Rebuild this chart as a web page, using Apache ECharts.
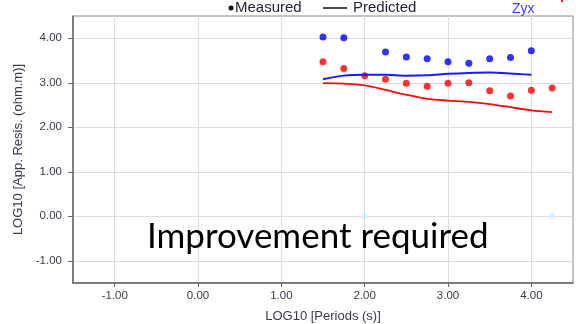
<!DOCTYPE html>
<html>
<head>
<meta charset="utf-8">
<script src="https://cdn.jsdelivr.net/npm/echarts@6/dist/echarts.min.js"></script>
<style>
  html, body { margin: 0; padding: 0; background: #fff; }
  #chart { width: 576px; height: 324px; }
</style>
</head>
<body>
<div id="chart"></div>
<script>
// LOG10 period values where responses were sampled
const periods = [1.5, 1.75, 2.0, 2.25, 2.5, 2.75, 3.0, 3.25, 3.5, 3.75, 4.0, 4.25];

// Zyx component (blue)
const zyxMeasured  = [4.03, 4.01, null, 3.69, 3.58, 3.54, 3.47, 3.44, 3.54, 3.57, 3.72, null];
const zyxPredicted = [3.08, 3.16, 3.18, 3.18, 3.16, 3.17, 3.20, 3.22, 3.23, 3.21, 3.18, null];

// Zxy component (red)
const zxyMeasured  = [3.47, 3.32, 3.16, 3.08, 2.99, 2.92, 2.99, 3.00, 2.82, 2.70, 2.83, 2.88];
const zxyPredicted = [2.99, 2.98, 2.94, 2.84, 2.73, 2.64, 2.60, 2.57, 2.52, 2.45, 2.38, 2.34];

// Rejected samples plotted at zero
const rejectedPeriods = [2.0, 4.25];
const rejectedValues  = [0.0, 0.0];

// Axis tick labels
const xTicks = [-1, 0, 1, 2, 3, 4];
const yTicks = [-1, 0, 1, 2, 3, 4];

const pairs = (xs, ys) => xs.map((x, i) => [x, ys[i]]).filter(p => p[1] !== null);

const chart = echarts.init(document.getElementById('chart'), null, { renderer: 'canvas' });

const axisFont = { fontFamily: 'Liberation Sans, Arial, sans-serif', fontSize: 11.5, color: '#3a3a4a' };

chart.setOption({
  animation: false,
  backgroundColor: '#ffffff',
  grid: {
    left: 73, right: 3, top: 16, bottom: 41,
    containLabel: false, outerBoundsMode: 'none',
    show: true, borderColor: '#8a8a8a', borderWidth: 1
  },
  xAxis: {
    type: 'value', min: -1.5, max: 4.5,
    name: 'LOG10 [Periods (s)]', nameLocation: 'middle', nameGap: 27,
    nameTextStyle: Object.assign({}, axisFont, { fontSize: 13 }),
    axisLine: { show: true, onZero: false, lineStyle: { color: '#666', width: 1.5 } },
    axisTick: { show: true, length: 4, customValues: xTicks, lineStyle: { color: '#666' } },
    axisLabel: Object.assign({ customValues: xTicks, margin: 7, formatter: v => v.toFixed(2) }, axisFont),
    splitLine: { show: true, lineStyle: { color: '#dedede', width: 1 } }
  },
  yAxis: {
    type: 'value', min: -1.5, max: 4.5,
    name: 'LOG10 [App. Resis. (ohm.m)]', nameLocation: 'middle', nameGap: 44,
    nameTextStyle: Object.assign({}, axisFont, { fontSize: 13 }),
    axisLine: { show: true, onZero: false, lineStyle: { color: '#666', width: 1.5 } },
    axisTick: { show: true, length: 5, customValues: yTicks, lineStyle: { color: '#666' } },
    axisLabel: Object.assign({ customValues: yTicks, margin: 11, formatter: v => v.toFixed(2) }, axisFont),
    splitLine: { show: true, lineStyle: { color: '#dedede', width: 1 } }
  },
  series: [
    {
      name: 'Zyx predicted', type: 'line', data: pairs(periods, zyxPredicted),
      showSymbol: false, smooth: 0.3,
      lineStyle: { color: '#1a1aff', width: 2 }
    },
    {
      name: 'Zxy predicted', type: 'line', data: pairs(periods, zxyPredicted),
      showSymbol: false, smooth: 0.3,
      lineStyle: { color: '#ff0a0a', width: 1.8 }
    },
    {
      name: 'Zyx measured', type: 'scatter', data: pairs(periods, zyxMeasured),
      symbolSize: 7, itemStyle: { color: '#0000ff' }
    },
    {
      name: 'Zxy measured', type: 'scatter', data: pairs(periods, zxyMeasured),
      symbolSize: 7, itemStyle: { color: '#ff0000' }
    },
    {
      name: 'Rejected', type: 'scatter', data: pairs(rejectedPeriods, rejectedValues),
      symbolSize: 6, itemStyle: { color: '#c4f6fb' }
    }
  ],
  graphic: [
    // legend
    { type: 'circle', shape: { cx: 231, cy: 8, r: 2.5 }, style: { fill: '#111' } },
    { type: 'text', x: 235, y: 8, style: { text: 'Measured', fill: '#1e2233', font: '15px "Liberation Sans", Arial, sans-serif', verticalAlign: 'middle' } },
    { type: 'line', shape: { x1: 323, y1: 8, x2: 347, y2: 8 }, style: { stroke: '#111', lineWidth: 1.5 } },
    { type: 'text', x: 353, y: 8, style: { text: 'Predicted', fill: '#1e2233', font: '15px "Liberation Sans", Arial, sans-serif', verticalAlign: 'middle' } },
    // component tag
    { type: 'text', x: 512, y: 9, style: { text: 'Zyx', fill: '#3b3bff', font: '14px "Liberation Sans", Arial, sans-serif', verticalAlign: 'middle' } },
    { type: 'rect', shape: { x: 561, y: 0, width: 2, height: 2 }, style: { fill: '#ff2020' } },
    // annotation
    { type: 'text', x: 147, y: 237, z: 100, style: { text: 'Improvement required', fill: '#000', font: '35px Lato, "Open Sans", sans-serif', verticalAlign: 'middle' } }
  ]
});
</script>
</body>
</html>
